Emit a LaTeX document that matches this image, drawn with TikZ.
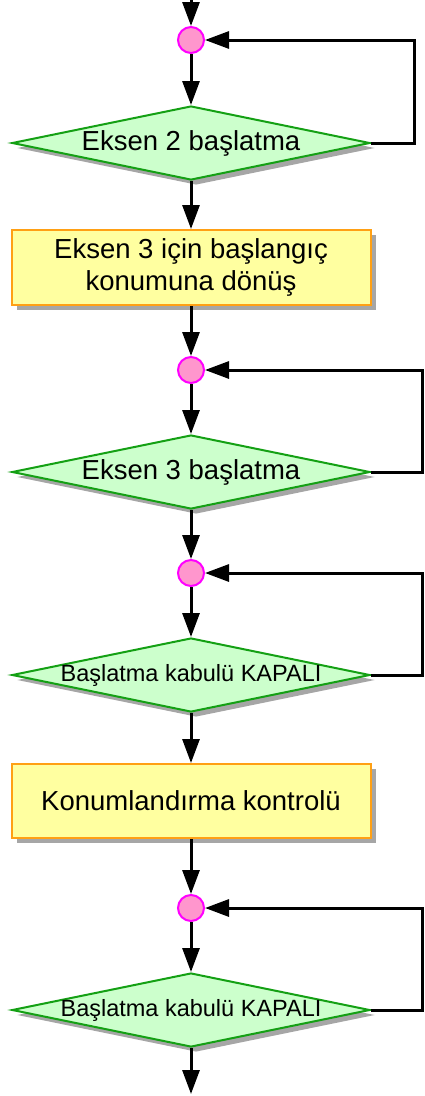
\documentclass[tikz,border=0pt]{standalone}
\usepackage{fontspec}
\setmainfont{Liberation Sans}
\usetikzlibrary{shapes.geometric,arrows.meta,shadows}

\newlength{\du}
\setlength{\du}{1pt}

\definecolor{decisionfill}{RGB}{204,255,204}
\definecolor{decisionline}{RGB}{20,160,20}
\definecolor{processfill}{RGB}{255,255,160}
\definecolor{processline}{RGB}{255,160,20}
\definecolor{jointfill}{RGB}{255,150,205}
\definecolor{jointline}{RGB}{255,0,255}

\tikzset{
  flowline/.style={line width=3\du, -{Triangle[width=17pt,length=24pt]}},
  boxshadow/.style={drop shadow={shadow xshift=5\du, shadow yshift=-5\du, fill=black, opacity=0.35}},
  decision/.style={diamond, draw=decisionline, fill=decisionfill, line width=2\du,
    minimum width=358\du, minimum height=74\du, inner sep=0pt, boxshadow},
  process/.style={rectangle, draw=processline, fill=processfill, line width=2\du,
    minimum width=359\du, minimum height=75\du, align=center,
    font=\fontsize{27.5}{32}\selectfont, boxshadow},
  joint/.style={circle, draw=jointline, fill=jointfill, line width=2\du,
    minimum size=26\du, inner sep=0pt},
  bigtext/.style={font=\fontsize{27.5}{32}\selectfont},
  smalltext/.style={font=\fontsize{23.5}{28}\selectfont}
}

\begin{document}
\begin{tikzpicture}
\useasboundingbox (0\du,0\du) rectangle (424\du,-1096\du);
% axis 2
\coordinate (start) at (191\du,8\du);
\node[joint] (c1) at (191\du,-40\du) {};
\node[decision, label={[bigtext]center:Eksen 2 başlatma}] (d1) at (191\du,-143\du) {};
\node[process] (b1) at (191\du,-267.5\du) {Eksen 3 için başlangıç\\konumuna dönüş};
% axis 3
\node[joint] (c2) at (191\du,-370\du) {};
\node[decision, label={[bigtext]center:Eksen 3 başlatma}] (d2) at (191\du,-472\du) {};
\node[joint] (c3) at (191\du,-573\du) {};
\node[decision, label={[smalltext]center:Başlatma kabulü KAPALI}] (d3) at (191\du,-675\du) {};
\node[process, minimum height=74\du] (b2) at (191\du,-801\du) {Konumlandırma kontrolü};
\node[joint] (c4) at (191\du,-908\du) {};
\node[decision, label={[smalltext]center:Başlatma kabulü KAPALI}] (d4) at (191\du,-1010\du) {};
\coordinate (finish) at (191\du,-1094\du);

% main flow
\draw[flowline] (start) -- (c1);
\draw[flowline] (c1) -- (d1);
\draw[flowline] (d1) -- (b1);
\draw[flowline] (b1) -- (c2);
\draw[flowline] (c2) -- (d2);
\draw[flowline] (d2) -- (c3);
\draw[flowline] (c3) -- (d3);
\draw[flowline] (d3) -- (b2);
\draw[flowline] (b2) -- (c4);
\draw[flowline] (c4) -- (d4);
\draw[flowline] (d4) -- (finish);

% wait loops
\draw[flowline] (d1.east) -- ++(43\du,0) |- (c1.east);
\draw[flowline] (d2.east) -- ++(51\du,0) |- (c2.east);
\draw[flowline] (d3.east) -- ++(51\du,0) |- (c3.east);
\draw[flowline] (d4.east) -- ++(51\du,0) |- (c4.east);
\end{tikzpicture}
\end{document}
